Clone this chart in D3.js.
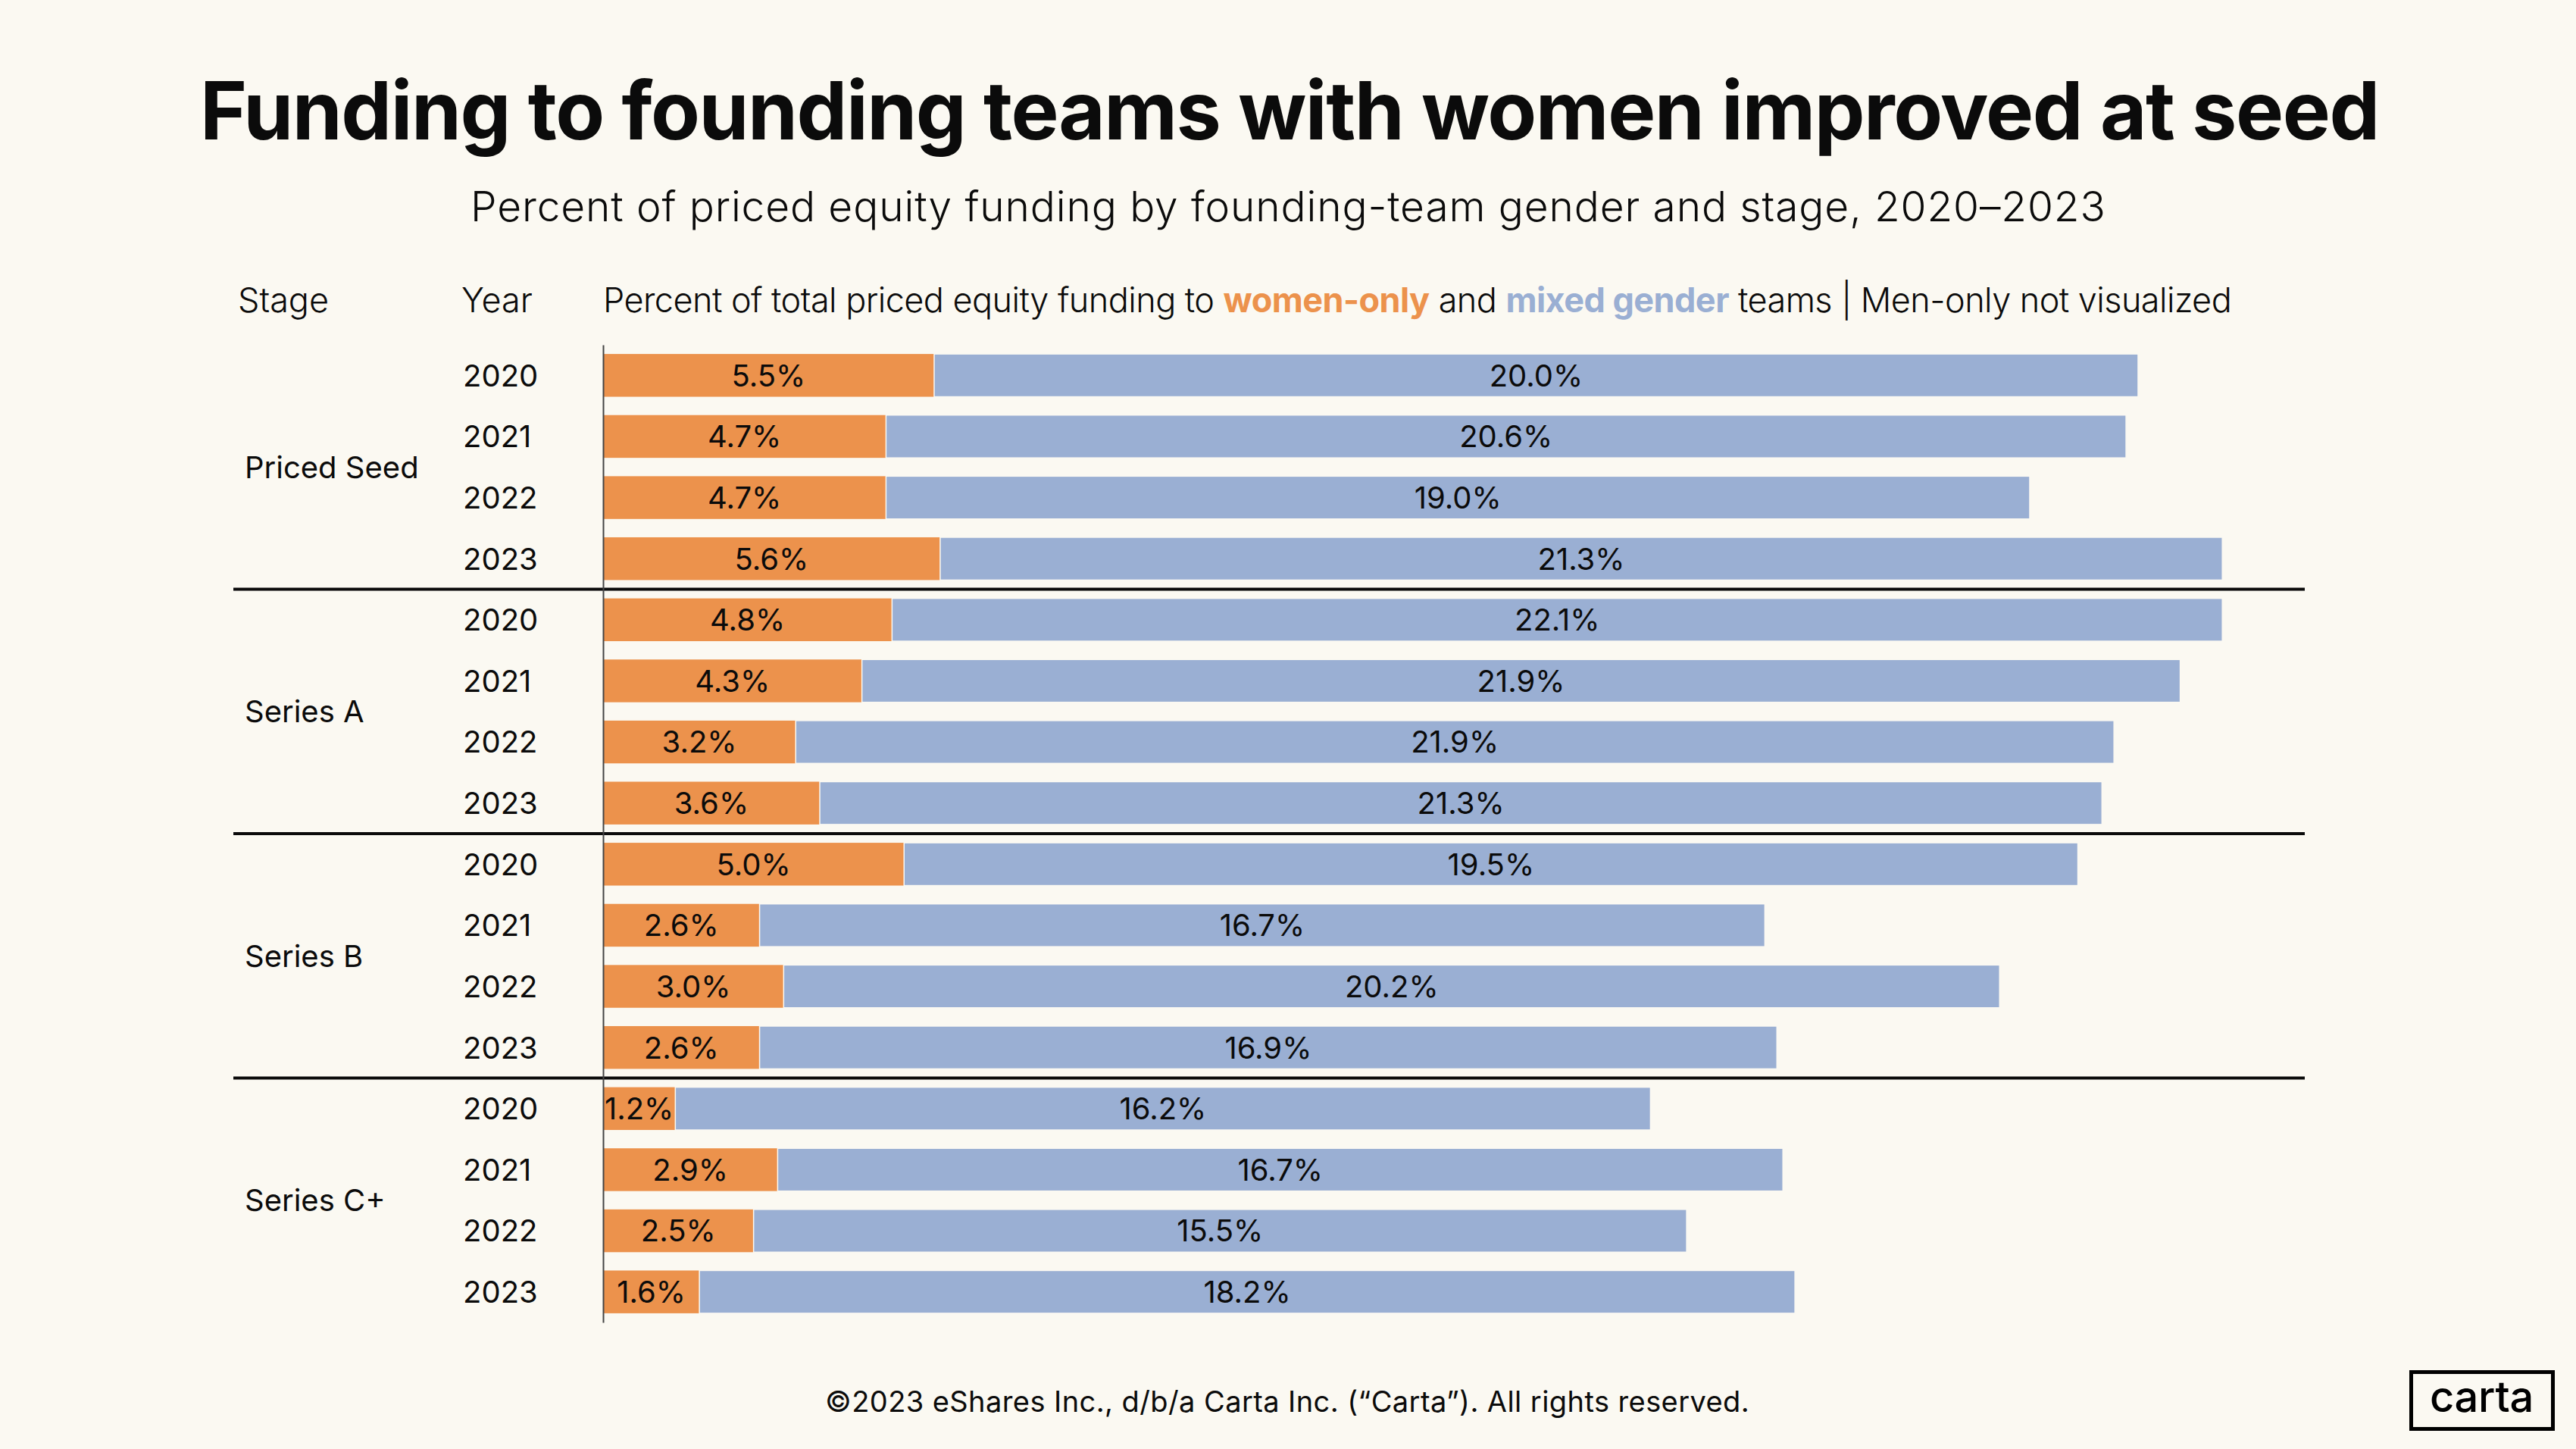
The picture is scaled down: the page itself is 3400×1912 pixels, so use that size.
<!DOCTYPE html>
<html>
<head>
<meta charset="utf-8">
<script src="https://cdn.jsdelivr.net/npm/d3@7"></script>
<style>
  html, body { margin: 0; padding: 0; background: #FBF9F2; }
  svg { display: block; font-family: Inter, "Noto Sans", sans-serif; }
</style>
</head>
<body>
<div id="chart"></div>
<script>
var stages = ["Priced Seed", "Series A", "Series B", "Series C+"];
var years = ["2020", "2021", "2022", "2023"];
// percent of total priced equity funding, rows ordered stage by stage, year by year
var womenOnly = [5.5, 4.7, 4.7, 5.6, 4.8, 4.3, 3.2, 3.6, 5.0, 2.6, 3.0, 2.6, 1.2, 2.9, 2.5, 1.6];
var mixedGender = [20.0, 20.6, 19.0, 21.3, 22.1, 21.9, 21.9, 21.3, 19.5, 16.7, 20.2, 16.9, 16.2, 16.7, 15.5, 18.2];

var width = 3400, height = 1912;
var orange = "#EC924C", blue = "#9AAFD3", bg = "#FBF9F2", ink = "#0B0B0B";

var rows = [];
stages.forEach(function(s, i) {
  years.forEach(function(yr, j) {
    var k = i * years.length + j;
    rows.push({id: s + "|" + yr, stage: s, year: yr, women: womenOnly[k], mixed: mixedGender[k], first: j === 0});
  });
});

var svg = d3.select("#chart").append("svg")
    .attr("width", width)
    .attr("height", height);

svg.append("rect").attr("width", width).attr("height", height).attr("fill", bg);

var x = d3.scaleLinear().domain([0, 30]).range([796, 796 + 30 * 79.45]);
var y = d3.scaleBand()
    .domain(rows.map(function(d) { return d.id; }))
    .range([455, 1745])
    .paddingInner(0.3)
    .paddingOuter(0.15);

// squeeze or stretch letter spacing so a line ends where the original does
function fitWidth(sel, target) {
  var node = sel.node();
  var len = node.getComputedTextLength();
  var n = sel.text().length;
  sel.attr("letter-spacing", ((target - len) / n).toFixed(2) + "px");
}

// titles
var title = svg.append("text")
    .attr("x", 264).attr("y", 184)
    .attr("font-size", 106).attr("font-weight", 700)
    .attr("fill", ink)
    .text("Funding to founding teams with women improved at seed");
fitWidth(title, 3140 - 264);

var sub = svg.append("text")
    .attr("x", 621).attr("y", 292)
    .attr("font-size", 55).attr("font-weight", 300)
    .attr("fill", ink)
    .text("Percent of priced equity funding by founding-team gender and stage, 2020\u20132023");
fitWidth(sub, 2780 - 621);

// column headers
svg.append("text").attr("x", 314).attr("y", 412)
    .attr("font-size", 45).attr("font-weight", 300).attr("fill", ink).text("Stage");
svg.append("text").attr("x", 609).attr("y", 412)
    .attr("font-size", 45).attr("font-weight", 300).attr("fill", ink).text("Year");

var head = svg.append("text").attr("x", 796).attr("y", 412)
    .attr("font-size", 45).attr("font-weight", 300).attr("fill", ink);
head.append("tspan").text("Percent of total priced equity funding to ");
head.append("tspan").attr("font-weight", 700).attr("fill", orange).text("women-only");
head.append("tspan").text(" and ");
head.append("tspan").attr("font-weight", 700).attr("fill", blue).text("mixed gender");
head.append("tspan").text(" teams | Men-only not visualized");
fitWidth(head, 2945 - 796);

// bars
var bar = svg.selectAll(".row")
    .data(rows)
  .enter().append("g")
    .attr("class", "row");

bar.append("rect")
    .attr("x", x(0))
    .attr("y", function(d) { return y(d.id); })
    .attr("width", function(d) { return x(d.women) - x(0); })
    .attr("height", y.bandwidth())
    .attr("fill", orange);

bar.append("rect")
    .attr("x", function(d) { return x(d.women); })
    .attr("y", function(d) { return y(d.id); })
    .attr("width", function(d) { return x(d.women + d.mixed) - x(d.women); })
    .attr("height", y.bandwidth())
    .attr("fill", blue)
    .attr("stroke", bg)
    .attr("stroke-width", 1.5);

bar.append("text")
    .attr("x", function(d) { return (x(0) + x(d.women)) / 2; })
    .attr("y", function(d) { return y(d.id) + y.bandwidth() / 2; })
    .attr("dy", "0.36em")
    .attr("text-anchor", "middle")
    .attr("font-size", 40)
    .attr("fill", ink)
    .text(function(d) { return d.women.toFixed(1) + "%"; });

bar.append("text")
    .attr("x", function(d) { return (x(d.women) + x(d.women + d.mixed)) / 2; })
    .attr("y", function(d) { return y(d.id) + y.bandwidth() / 2; })
    .attr("dy", "0.36em")
    .attr("text-anchor", "middle")
    .attr("font-size", 40)
    .attr("fill", ink)
    .text(function(d) { return d.mixed.toFixed(1) + "%"; });

// year labels
bar.append("text")
    .attr("x", 611)
    .attr("y", function(d) { return y(d.id) + y.bandwidth() / 2; })
    .attr("dy", "0.36em")
    .attr("font-size", 40)
    .attr("fill", ink)
    .text(function(d) { return d.year; });

// stage labels sit in the middle of their four rows
svg.selectAll(".stage")
    .data(stages)
  .enter().append("text")
    .attr("class", "stage")
    .attr("x", 323)
    .attr("y", function(s) {
      var top = y(s + "|" + years[0]);
      var bot = y(s + "|" + years[years.length - 1]) + y.bandwidth();
      return (top + bot) / 2;
    })
    .attr("dy", "0.36em")
    .attr("font-size", 40)
    .attr("fill", ink)
    .text(function(s) { return s; });

// separators between stages
var gap = y.step() * y.paddingInner() / 2;
svg.selectAll(".sep")
    .data(rows.filter(function(d) { return d.first && d.stage !== stages[0]; }))
  .enter().append("line")
    .attr("class", "sep")
    .attr("x1", 308).attr("x2", 3042)
    .attr("y1", function(d) { return y(d.id) - gap; })
    .attr("y2", function(d) { return y(d.id) - gap; })
    .attr("stroke", ink)
    .attr("stroke-width", 4);

// baseline axis
svg.append("g")
    .attr("transform", "translate(" + x(0) + ",0)")
    .call(d3.axisLeft(y).tickSize(0).tickFormat(""))
    .call(function(g) { g.select(".domain").attr("stroke", "#444").attr("stroke-width", 2); });

// footer
var foot = svg.append("text")
    .attr("x", 1089).attr("y", 1863)
    .attr("font-size", 38).attr("font-weight", 400)
    .attr("fill", ink)
    .text("\u00A92023 eShares Inc., d/b/a Carta Inc. (\u201CCarta\u201D). All rights reserved.");
fitWidth(foot, 2309 - 1089);

// logo
svg.append("rect")
    .attr("x", 3182.5).attr("y", 1810.5)
    .attr("width", 187).attr("height", 75)
    .attr("fill", "none").attr("stroke", "#000").attr("stroke-width", 5);
var logo = svg.append("text")
    .attr("x", 3207).attr("y", 1863)
    .attr("font-size", 56).attr("font-weight", 500)
    .attr("fill", "#000")
    .text("carta");
fitWidth(logo, 137);
</script>
</body>
</html>
